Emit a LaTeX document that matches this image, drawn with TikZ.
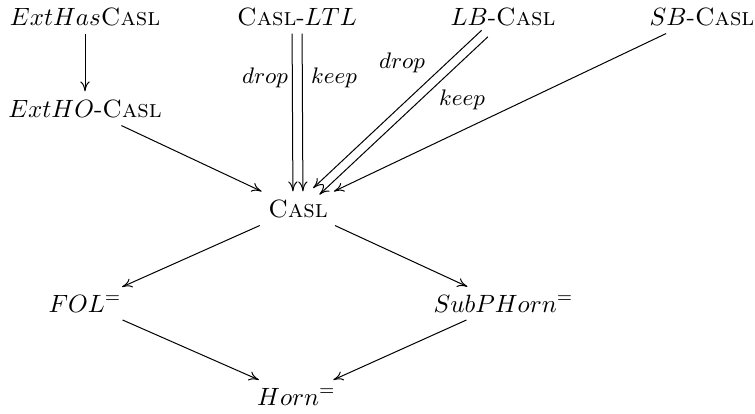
\documentclass[tikz,border=0pt]{standalone}
\usetikzlibrary{arrows.meta}
\begin{document}
\begin{tikzpicture}[x=0.4pt,y=-0.4pt,
  obj/.style={anchor=base,inner xsep=3.5pt,inner ysep=3pt},
  arr/.style={-{To[length=4pt,width=3.8pt]},line width=0.4pt},
  lbl/.style={font=\small}]
\useasboundingbox (0,0) rectangle (755,414);
% row 1
\node[obj] (exthas) at (85,25) {$ExtHas$\textsc{Casl}};
\node[obj] (ltl) at (297,25) {\textsc{Casl}-$LTL$};
\node[obj] (lb) at (503,25) {$LB$-\textsc{Casl}};
\node[obj] (sb) at (702,25) {$SB$-\textsc{Casl}};
% row 2
\node[obj] (extho) at (85,117) {$ExtHO$-\textsc{Casl}};
% row 3
\node[obj] (casl) at (298,217) {\textsc{Casl}};
% row 4
\node[obj] (fol) at (85,312) {$FOL^=$};
\node[obj] (sub) at (503.5,312) {$SubPHorn^=$};
% row 5
\node[obj] (horn) at (296.5,405) {$Horn^=$};
% arrows
\draw[arr] (exthas) -- (extho);
\draw[arr,transform canvas={xshift=-2pt}] (ltl) -- (casl);
\draw[arr,transform canvas={xshift=2pt}] (ltl) -- (casl);
\draw[arr,transform canvas={shift={(-1.25pt,1.3pt)}}] (lb) -- (casl);
\draw[arr,transform canvas={shift={(1.25pt,-1.3pt)}}] (lb) -- (casl);
\draw[arr] (sb) -- (casl);
\draw[arr] (extho) -- (casl);
\draw[arr] (casl) -- (fol);
\draw[arr] (casl) -- (sub);
\draw[arr] (fol) -- (horn);
\draw[arr] (sub) -- (horn);
% labels
\node[lbl] (ldrop) at (265,78) {$drop$};
\node[lbl] (lkeep) at (334,78) {$keep$};
\node[lbl] (bdrop) at (402,63) {$drop$};
\node[lbl] (bkeep) at (462,100) {$keep$};
\end{tikzpicture}
\end{document}
